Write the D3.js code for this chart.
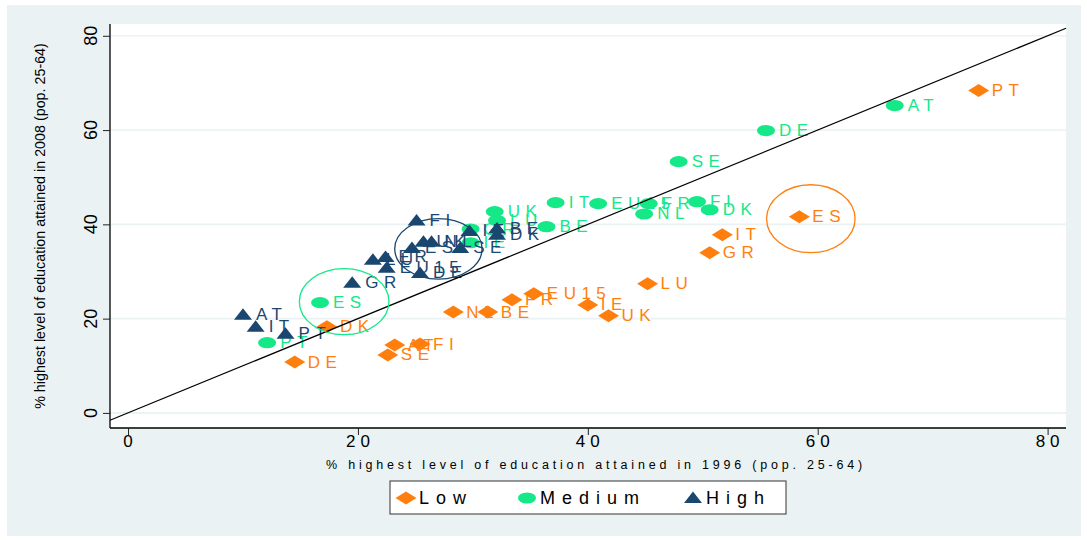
<!DOCTYPE html>
<html><head><meta charset="utf-8">
<script src="https://cdn.jsdelivr.net/npm/d3@7"></script>
<style>body{margin:0;background:#fff}svg{display:block}text{font-family:"Liberation Sans",Arial,sans-serif}</style>
</head><body>
<svg id="chart" width="1087" height="540"></svg>
<script>
// ---- data ----
const lowCountries = ["PT","ES","IT","GR","LU","IE","UK","EU15","FR","BE","NL","DK","AT","FI","SE","DE"];
const low1996 = [74.0,58.4,51.7,50.6,45.2,40.0,41.8,35.3,33.4,31.3,28.3,17.3,23.2,25.4,22.6,14.5];
const low2008 = [68.4,41.6,37.8,34.0,27.4,22.9,20.6,25.3,24.0,21.4,21.4,18.3,14.4,14.6,12.3,10.8];

const medCountries = ["AT","DE","SE","FI","DK","FR","NL","EU15","IT","UK","BE","LU","GR","IE","ES","PT"];
const med1996 = [66.7,55.5,47.9,49.5,50.6,45.3,44.9,40.9,37.2,31.9,36.4,32.1,29.8,29.8,16.7,12.1];
const med2008 = [65.2,59.9,53.3,44.8,43.1,44.4,42.2,44.4,44.6,42.7,39.5,40.8,39.0,36.1,23.4,14.9];

const highCountries = ["AT","IT","PT","GR","LU","FR","EU15","DE","FI","ES","UK","NL","SE","IE","BE","DK"];
const high1996 = [10.0,11.1,13.7,19.5,21.3,22.4,22.5,25.4,25.1,24.7,25.7,26.4,28.9,29.7,32.1,32.1];
const high2008 = [20.8,18.3,16.8,27.6,32.5,33.1,30.8,29.7,40.8,35.0,36.3,36.3,35.0,38.6,39.1,37.8];

const seriesNames = ["Low","Medium","High"];
const tickValues = [0,20,40,60,80];
// highlighted observations: [x, y, rx, ry] in data units
const highlightLow = [59.4,41.2,3.85,7.2];
const highlightMed = [18.8,23.6,3.9,7.0];
const highlightHigh = [27.0,34.8,3.8,6.4];

// ---- styles ----
const colors = {Low:"#ff7f0e", Medium:"#14e887", High:"#1a476f"};
const bg = "#eaf2f3";

const svg = d3.select("#chart");
const L=110, R=1066, T=24, B=428;
const x = d3.scaleLinear().domain([-1.57,81.6]).range([L,R]);
const y = d3.scaleLinear().domain([-3.2,82.5]).range([B,T]);

svg.append("rect").attr("x",7).attr("y",5).attr("width",1074).attr("height",531).attr("fill",bg);
svg.append("rect").attr("x",L).attr("y",T).attr("width",R-L).attr("height",B-T).attr("fill","#fff");

// gridlines
svg.append("g").selectAll("line").data(tickValues).join("line")
  .attr("x1",L).attr("x2",R).attr("y1",d=>y(d)).attr("y2",d=>y(d))
  .attr("stroke",bg).attr("stroke-width",1.6);

// marker shapes (horizontally stretched)
function shapePath(kind){
  if(kind==="Low") return "M-10.5,0L0,-6.5L10.5,0L0,6.5Z";
  if(kind==="Medium") return "M-9,0A9,5.6 0 1,0 9,0A9,5.6 0 1,0 -9,0Z";
  return "M-9,5L0,-6.5L9,5Z";
}

const series = [
  {name:"Low", c:lowCountries, xs:low1996, ys:low2008},
  {name:"Medium", c:medCountries, xs:med1996, ys:med2008},
  {name:"High", c:highCountries, xs:high1996, ys:high2008}
];
const plot = svg.append("g");
series.forEach(s=>{
  const data = s.c.map((c,i)=>({c, x:s.xs[i], y:s.ys[i]}));
  const g = plot.append("g");
  g.selectAll("path").data(data).join("path")
    .attr("d",shapePath(s.name))
    .attr("transform",d=>`translate(${x(d.x)},${y(d.y)})`)
    .attr("fill",colors[s.name]);
  g.selectAll("text").data(data).join("text")
    .attr("x",d=>x(d.x)+13).attr("y",d=>y(d.y))
    .attr("dominant-baseline","central")
    .attr("font-size",17).attr("letter-spacing",5.5)
    .attr("fill",colors[s.name]).text(d=>d.c);
});

// 45-degree line
const lo = Math.max(x.domain()[0], y.domain()[0]), hi = Math.min(x.domain()[1], y.domain()[1]);
svg.append("line").attr("x1",x(lo)).attr("y1",y(lo)).attr("x2",x(hi)).attr("y2",y(hi))
  .attr("stroke","#000").attr("stroke-width",1.2);

// ellipses
[[highlightLow,"Low"],[highlightMed,"Medium"],[highlightHigh,"High"]].forEach(([e,n])=>{
  svg.append("ellipse").attr("cx",x(e[0])).attr("cy",y(e[1]))
    .attr("rx",x(e[0]+e[2])-x(e[0])).attr("ry",y(e[1])-y(e[1]+e[3]))
    .attr("fill","none").attr("stroke",colors[n]).attr("stroke-width",1.3);
});

// axes
const yAxis = svg.append("g").attr("transform",`translate(${L},0)`)
  .call(d3.axisLeft(y).tickValues(tickValues).tickSize(7).tickFormat(""));
yAxis.select(".domain").attr("d",`M0,${T}V${B}`).attr("stroke","#000").attr("stroke-width",1.3);
yAxis.selectAll(".tick line").attr("stroke","#222");
svg.append("g").selectAll("text").data(tickValues).join("text")
  .attr("transform",d=>`translate(${L-13},${y(d)}) rotate(-90)`)
  .attr("text-anchor","middle").attr("font-size",18).attr("fill","#000").text(d=>d);

const xAxis = svg.append("g").attr("transform",`translate(0,${B})`)
  .call(d3.axisBottom(x).tickValues(tickValues).tickSize(7).tickFormat(""));
xAxis.select(".domain").attr("d",`M${L},0H${R}`).attr("stroke","#000").attr("stroke-width",1.3);
xAxis.selectAll(".tick line").attr("stroke","#222");
svg.append("g").selectAll("text").data(tickValues).join("text")
  .attr("x",d=>x(d)+2.5).attr("y",B+19).attr("text-anchor","middle")
  .attr("font-size",17).attr("letter-spacing",5).attr("fill","#000").text(d=>d);

svg.append("text").attr("x",(L+R)/2+8).attr("y",469).attr("text-anchor","middle")
  .attr("font-size",12.5).attr("letter-spacing",3.8).attr("fill","#000")
  .text("% highest level of education attained in 1996 (pop. 25-64)");
svg.append("text").attr("transform",`translate(45,${(T+B)/2}) rotate(-90)`)
  .attr("text-anchor","middle").attr("font-size",14.3).attr("fill","#000")
  .text("% highest level of education attained in 2008 (pop. 25-64)");

// legend
const lg = svg.append("g");
lg.append("rect").attr("x",390).attr("y",481).attr("width",396).attr("height",33)
  .attr("fill","#fff").attr("stroke","#333").attr("stroke-width",1);
const legX = [406,527,693];
seriesNames.forEach((n,i)=>{
  lg.append("path").attr("d",shapePath(n)).attr("transform",`translate(${legX[i]},498)`).attr("fill",colors[n]);
  lg.append("text").attr("x",legX[i]+13).attr("y",498).attr("dominant-baseline","central")
    .attr("font-size",18).attr("letter-spacing",7).attr("fill","#000").text(n);
});
</script>
</body></html>
